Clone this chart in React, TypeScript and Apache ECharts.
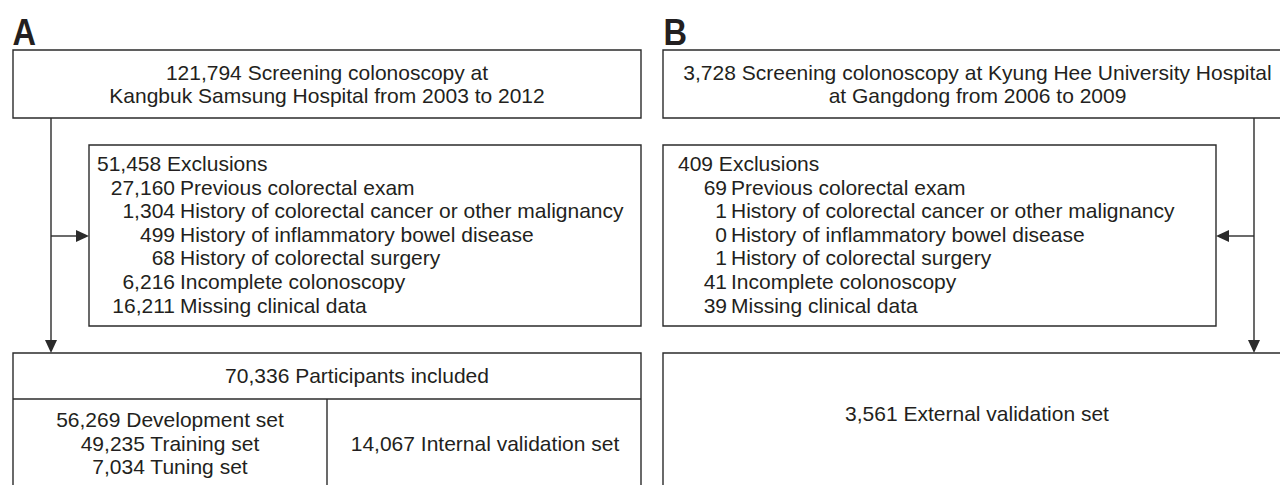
import React, { useEffect, useRef } from "react";
import * as echarts from "echarts";

// ---- data ----
const panelLabels = ["A", "B"];
const screenedA = 121794;
const screenedB = 3728;
const screenTextA = ["Screening colonoscopy at", "Kangbuk Samsung Hospital from 2003 to 2012"];
const screenTextB = ["Screening colonoscopy at Kyung Hee University Hospital", "at Gangdong from 2006 to 2009"];
const exclusionTotalA = 51458;
const exclusionTotalB = 409;
const exclusionLabels = [
  "Previous colorectal exam",
  "History of colorectal cancer or other malignancy",
  "History of inflammatory bowel disease",
  "History of colorectal surgery",
  "Incomplete colonoscopy",
  "Missing clinical data",
];
const exclusionCountsA = [27160, 1304, 499, 68, 6216, 16211];
const exclusionCountsB = [69, 1, 0, 1, 41, 39];
const includedA = 70336;
const splitLabels = ["Development set", "Training set", "Tuning set"];
const splitCounts = [56269, 49235, 7034];
const internalValidation = 14067;
const externalValidation = 3561;

const fmt = (n: number) => n.toLocaleString("en-US");

const INK = "#231f20";
const LINE = "#2b2b2b";
const FONT = "'Liberation Sans', Arial, Helvetica, sans-serif";
const FS = 21;

function txt(text: string, x: number, y: number, align: string = "left", extra: any = {}) {
  return {
    type: "text",
    x,
    y,
    silent: true,
    style: {
      text,
      fill: INK,
      fontSize: FS,
      fontFamily: FONT,
      align,
      textAlign: align,
      verticalAlign: "middle",
      textVerticalAlign: "middle",
      ...extra,
    },
  };
}

function box(x: number, y: number, w: number, h: number) {
  return {
    type: "rect",
    shape: { x, y, width: w, height: h },
    style: { fill: "none", stroke: LINE, lineWidth: 1.4 },
    silent: true,
  };
}

function ln(x1: number, y1: number, x2: number, y2: number) {
  return {
    type: "line",
    shape: { x1, y1, x2, y2 },
    style: { stroke: LINE, lineWidth: 1.4 },
    silent: true,
  };
}

function arrowHead(tipX: number, tipY: number, dir: string) {
  const L = 13, Hw = 6;
  let pts: number[][];
  if (dir === "down") pts = [[tipX, tipY], [tipX - Hw, tipY - L], [tipX + Hw, tipY - L]];
  else if (dir === "right") pts = [[tipX, tipY], [tipX - L, tipY - Hw], [tipX - L, tipY + Hw]];
  else pts = [[tipX, tipY], [tipX + L, tipY - Hw], [tipX + L, tipY + Hw]];
  return { type: "polygon", shape: { points: pts }, style: { fill: LINE }, silent: true };
}

export default function App() {
  const ref = useRef<HTMLDivElement>(null);
  useEffect(() => {
    document.body.style.margin = "0";
    if (!ref.current) return;
    const chart = echarts.init(ref.current, null, { renderer: "svg" });
    const rowY = [187, 210.5, 234, 257.5, 281, 305];
    const els: any[] = [];

    // Panel labels
    const la: any = txt(panelLabels[0], 12.5, 31.5, "left", { fontSize: 37, fontWeight: "bold" });
    la.scaleX = 0.88;
    els.push(la);
    const lb: any = txt(panelLabels[1], 663.5, 31.5, "left", { fontSize: 37, fontWeight: "bold" });
    lb.scaleX = 0.88;
    els.push(lb);

    // ---- Panel A ----
    els.push(box(13, 50, 628, 68));
    els.push(txt(fmt(screenedA) + " " + screenTextA[0], 327, 72, "center"));
    els.push(txt(screenTextA[1], 327, 95, "center"));

    els.push(box(89, 145, 552, 181));
    els.push(txt(fmt(exclusionTotalA) + " Exclusions", 97, 163));
    exclusionCountsA.forEach((c, i) => {
      els.push(txt(fmt(c), 175, rowY[i], "right"));
      els.push(txt(exclusionLabels[i], 180, rowY[i]));
    });

    els.push(ln(51, 118, 51, 345));
    els.push(ln(51, 236, 80, 236));
    els.push(arrowHead(89, 236, "right"));
    els.push(arrowHead(51, 353, "down"));

    els.push(box(13, 353, 628, 160));
    els.push(ln(13, 399, 641, 399));
    els.push(ln(327, 399, 327, 513));
    els.push(txt(fmt(includedA) + " Participants included", 357, 375, "center"));
    const splitY = [419, 443, 466];
    splitCounts.forEach((c, i) => {
      els.push(txt(fmt(c) + " " + splitLabels[i], 170, splitY[i], "center"));
    });
    els.push(txt(fmt(internalValidation) + " Internal validation set", 485, 443, "center"));

    // ---- Panel B ----
    els.push(box(663, 50, 640, 68));
    els.push(txt(fmt(screenedB) + " " + screenTextB[0], 977.5, 72, "center"));
    els.push(txt(screenTextB[1], 977.5, 95, "center"));

    els.push(box(663, 145, 553, 181));
    els.push(txt(fmt(exclusionTotalB) + " Exclusions", 678, 163));
    exclusionCountsB.forEach((c, i) => {
      els.push(txt(fmt(c), 727, rowY[i], "right"));
      els.push(txt(exclusionLabels[i], 731, rowY[i]));
    });

    els.push(ln(1254, 118, 1254, 345));
    els.push(ln(1254, 236, 1225, 236));
    els.push(arrowHead(1216, 236, "left"));
    els.push(arrowHead(1254, 353, "down"));

    els.push(box(663, 353, 640, 160));
    els.push(txt(fmt(externalValidation) + " External validation set", 977, 413, "center"));

    chart.setOption({
      animation: false,
      backgroundColor: "#ffffff",
      graphic: { elements: els },
    });
    return () => chart.dispose();
  }, []);
  return <div ref={ref} style={{ width: 1280, height: 485 }} />;
}
